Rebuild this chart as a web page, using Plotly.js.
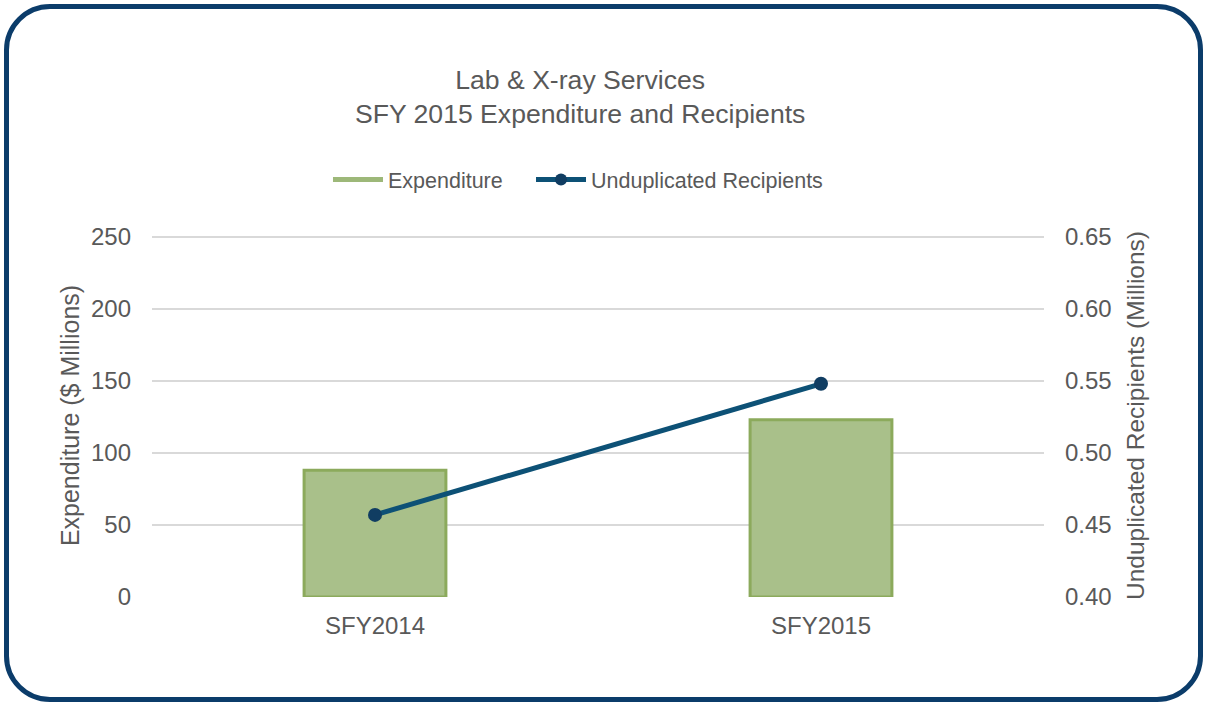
<!DOCTYPE html>
<html>
<head>
<meta charset="utf-8">
<script src="https://cdn.plot.ly/plotly-3.0.1.min.js"></script>
<style>
html,body{margin:0;padding:0;background:#fff;}
#frame{position:absolute;left:4px;top:4px;width:1189px;height:688px;border:5px solid #0b3c6a;border-radius:46px;}
#chart{position:absolute;left:0;top:0;width:1205px;height:704px;}
</style>
</head>
<body>
<div id="frame"></div>
<div id="chart"></div>
<script>
const categories = ["SFY2014", "SFY2015"];
const expenditure = [88, 123];
const recipients = [0.457, 0.548];
const leftTicks = [0, 50, 100, 150, 200, 250];
const rightTicks = [0.40, 0.45, 0.50, 0.55, 0.60, 0.65];

const font = "Liberation Sans, Arial, sans-serif";
const grey = "#595959";

const data = [
  {
    type: "bar", name: "Expenditure", x: categories, y: expenditure,
    marker: {color: "#a9c08a", line: {color: "#8caa5c", width: 3}},
    width: 0.318, yaxis: "y", showlegend: false
  },
  {
    // legend entry for the bars, drawn as a wide swatch like the original
    type: "scatter", mode: "lines", name: "Expenditure",
    x: [null], y: [null], yaxis: "y",
    line: {color: "#9db879", width: 13}, showlegend: true, legend: "legend"
  },
  {
    type: "scatter", mode: "lines+markers", name: "Unduplicated Recipients",
    x: categories, y: recipients, yaxis: "y2",
    line: {color: "#0d5176", width: 5},
    marker: {color: "#103d62", size: 14}, legend: "legend2"
  }
];

const legendCommon = {
  orientation: "h", xanchor: "left", y: 1.15, yanchor: "middle",
  font: {family: font, size: 21.5, color: grey},
  itemwidth: 50, itemsizing: "constant", bgcolor: "rgba(0,0,0,0)"
};

const layout = {
  width: 1205, height: 704,
  paper_bgcolor: "rgba(0,0,0,0)", plot_bgcolor: "rgba(0,0,0,0)",
  margin: {l: 152, r: 161, t: 234, b: 107},
  font: {family: font, color: grey, size: 24},
  title: {
    text: "Lab & X-ray Services<br>SFY 2015 Expenditure and Recipients",
    font: {family: font, size: 26.6, color: grey},
    x: 0.48, xref: "paper", xanchor: "center",
    y: 0.874, yref: "container", yanchor: "middle"
  },
  showlegend: true,
  legend: Object.assign({}, legendCommon, {x: 0.1973}),
  legend2: Object.assign({}, legendCommon, {x: 0.4249}),
  xaxis: {
    type: "category", tickfont: {size: 24, color: grey},
    showgrid: false, zeroline: false, showline: false, ticks: "",
    ticklabelstandoff: 12
  },
  yaxis: {
    range: [0, 252], tickvals: leftTicks, ticktext: leftTicks.map(String),
    showgrid: true, gridcolor: "#d9d9d9", gridwidth: 2, zeroline: false,
    showline: false, ticks: "", ticklabelstandoff: 20,
    tickfont: {size: 24, color: grey},
    title: {text: "Expenditure ($ Millions)", font: {size: 25, color: grey}, standoff: 4}
  },
  yaxis2: {
    overlaying: "y", side: "right", range: [0.40, 0.652],
    tickvals: rightTicks, ticktext: rightTicks.map(v => v.toFixed(2)),
    showgrid: false, zeroline: false, showline: false, ticks: "",
    ticklabelstandoff: 20,
    tickfont: {size: 24, color: grey},
    title: {text: "Unduplicated Recipients (Millions)", font: {size: 24.5, color: grey}, standoff: 16}
  }
};

Plotly.newPlot("chart", data, layout, {displayModeBar: false, staticPlot: true});
</script>
</body>
</html>
